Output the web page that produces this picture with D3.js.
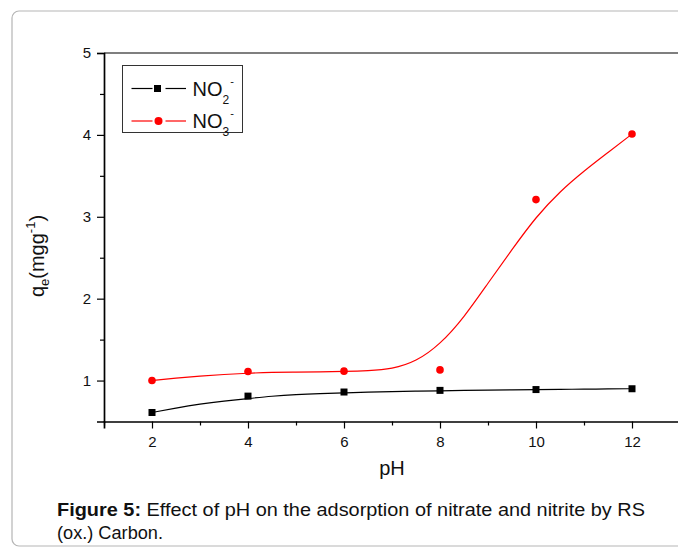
<!DOCTYPE html>
<html>
<head>
<meta charset="utf-8">
<script src="https://cdn.jsdelivr.net/npm/d3@7/dist/d3.min.js"></script>
<style>
  html, body { margin: 0; padding: 0; background: #fff; }
  svg { display: block; font-family: "Liberation Sans", Arial, sans-serif; }
</style>
</head>
<body>
<svg id="chart" width="678" height="550"></svg>
<script>
// Measured adsorption capacity q_e (mg/g) versus pH
const phValues = [2, 4, 6, 8, 10, 12];
const no2Values = [0.61, 0.81, 0.86, 0.88, 0.89, 0.90];
const no3Values = [1.00, 1.11, 1.115, 1.13, 3.21, 4.01];

// Fitted curves (smooth trend lines) sampled along pH
const fitPH  = [2, 2.5, 3, 3.5, 4, 4.5, 5, 5.5, 6, 6.5, 7, 7.5, 8, 8.5, 9, 9.5, 10, 10.5, 11, 11.5, 12];
const fitNO3 = [1.00, 1.03, 1.055, 1.075, 1.09, 1.10, 1.103, 1.107, 1.112, 1.12, 1.14, 1.23, 1.44, 1.77, 2.19, 2.60, 3.00, 3.31, 3.56, 3.785, 4.01];
const fitNO2 = [0.61, 0.665, 0.713, 0.75, 0.78, 0.81, 0.83, 0.842, 0.85, 0.858, 0.865, 0.87, 0.875, 0.879, 0.883, 0.887, 0.89, 0.893, 0.895, 0.898, 0.90];

// Axis ticks
const xMajor = [2, 4, 6, 8, 10, 12];
const xMinor = [1, 3, 5, 7, 9, 11, 13];
const yMajor = [1, 2, 3, 4, 5];
const yMinor = [1.5, 2.5, 3.5, 4.5];

const svg = d3.select("#chart");

// Page panel outline
svg.append("rect")
  .attr("x", 12).attr("y", 11)
  .attr("width", 700).attr("height", 535)
  .attr("rx", 7).attr("ry", 7)
  .attr("fill", "#fff").attr("stroke", "#b5b5b5").attr("stroke-width", 1.2);

const x = d3.scaleLinear().domain([1, 13]).range([104, 680]);
const y = d3.scaleLinear().domain([0.5, 5]).range([421.5, 53]);

// Top frame line
svg.append("line")
  .attr("x1", x(1)).attr("x2", 678)
  .attr("y1", y(5)).attr("y2", y(5))
  .attr("stroke", "#555").attr("stroke-width", 1.5);

// Y axis
const yAxis = svg.append("g").attr("transform", `translate(${x(1)},0)`);
yAxis.call(d3.axisLeft(y).tickValues(yMajor).tickSize(7).tickPadding(6).tickFormat(d3.format("d")));
yAxis.append("g").call(d3.axisLeft(y).tickValues(yMinor).tickSize(4).tickFormat(""))
  .select(".domain").remove();

// X axis
const xAxis = svg.append("g").attr("transform", `translate(0,${y(0.5)})`);
xAxis.call(d3.axisBottom(x).tickValues(xMajor).tickSize(7).tickPadding(8).tickFormat(d3.format("d")));
xAxis.append("g").call(d3.axisBottom(x).tickValues(xMinor).tickSize(4).tickFormat(""))
  .select(".domain").remove();

svg.selectAll(".domain").attr("stroke", "#000").attr("stroke-width", 1.7);
svg.selectAll(".tick line").attr("stroke", "#000").attr("stroke-width", 1.2);
svg.selectAll(".tick text").attr("font-size", 15).attr("fill", "#111")
  .attr("font-family", "'Liberation Sans', Arial, sans-serif");

// Axis titles
svg.append("text")
  .attr("x", 392).attr("y", 475)
  .attr("text-anchor", "middle")
  .attr("font-size", 20).attr("fill", "#111")
  .text("pH");

const yTitle = svg.append("text")
  .attr("transform", "translate(44,256) rotate(-90)")
  .attr("text-anchor", "middle")
  .attr("font-size", 20).attr("fill", "#111");
yTitle.append("tspan").text("q");
yTitle.append("tspan").attr("font-size", 13).attr("dy", 5).text("e");
yTitle.append("tspan").attr("dy", -5).text("(mgg");
yTitle.append("tspan").attr("font-size", 13).attr("dy", -9).text("-1");
yTitle.append("tspan").attr("dy", 9).text(")");

// Fitted curves
const line = d3.line().x(d => x(d[0])).y(d => y(d[1])).curve(d3.curveBasis);

svg.append("path")
  .datum(fitPH.map((p, i) => [p, fitNO2[i]]))
  .attr("d", line).attr("fill", "none")
  .attr("stroke", "#000").attr("stroke-width", 1.2);

svg.append("path")
  .datum(fitPH.map((p, i) => [p, fitNO3[i]]))
  .attr("d", line).attr("fill", "none")
  .attr("stroke", "#ff0000").attr("stroke-width", 1.2);

// Data markers
const sq = 7;
svg.append("g").selectAll("rect")
  .data(phValues.map((p, i) => [p, no2Values[i]]))
  .join("rect")
  .attr("x", d => x(d[0]) - sq / 2).attr("y", d => y(d[1]) - sq / 2)
  .attr("width", sq).attr("height", sq).attr("fill", "#000");

svg.append("g").selectAll("circle")
  .data(phValues.map((p, i) => [p, no3Values[i]]))
  .join("circle")
  .attr("cx", d => x(d[0])).attr("cy", d => y(d[1]))
  .attr("r", 3.8).attr("fill", "#ff0000");

// Legend
const legend = svg.append("g");
legend.append("rect")
  .attr("x", 122.5).attr("y", 65.5).attr("width", 120).attr("height", 67)
  .attr("fill", "#fff").attr("stroke", "#333").attr("stroke-width", 1);

const legendRows = [
  { name: "NO", sub: "2", color: "#000", shape: "square", cy: 88.5, base: 96 },
  { name: "NO", sub: "3", color: "#ff0000", shape: "circle", cy: 121, base: 128 }
];
legendRows.forEach(r => {
  legend.append("line").attr("x1", 131.5).attr("x2", 152.5).attr("y1", r.cy).attr("y2", r.cy)
    .attr("stroke", r.color).attr("stroke-width", 1.2);
  legend.append("line").attr("x1", 165.5).attr("x2", 186).attr("y1", r.cy).attr("y2", r.cy)
    .attr("stroke", r.color).attr("stroke-width", 1.2);
  if (r.shape === "square") {
    legend.append("rect").attr("x", 157.5 - 3.5).attr("y", r.cy - 3.5)
      .attr("width", 7).attr("height", 7).attr("fill", r.color);
  } else {
    legend.append("circle").attr("cx", 158.5).attr("cy", r.cy).attr("r", 4).attr("fill", r.color);
  }
  const t = legend.append("text").attr("x", 192.5).attr("y", r.base)
    .attr("font-size", 20).attr("fill", "#111");
  t.append("tspan").text(r.name);
  t.append("tspan").attr("font-size", 12).attr("dy", 8).text(r.sub);
  t.append("tspan").attr("font-size", 11).attr("dx", 1).attr("dy", -19).text("-");
});

// Caption set in a condensed face: first line justified across the block
const capLeft = 57, capRight = 645;
const cap1 = svg.append("text").attr("x", capLeft).attr("y", 516)
  .attr("font-size", 17.5).attr("fill", "#111")
  .attr("textLength", capRight - capLeft).attr("lengthAdjust", "spacingAndGlyphs");
cap1.append("tspan").attr("font-weight", "bold").text("Figure 5:");
cap1.append("tspan").text(" Effect of pH on the adsorption of nitrate and nitrite by RS");

svg.append("text").attr("x", capLeft).attr("y", 539)
  .attr("font-size", 17.5).attr("fill", "#111")
  .attr("textLength", 106).attr("lengthAdjust", "spacingAndGlyphs")
  .text("(ox.) Carbon.");
</script>
</body>
</html>
